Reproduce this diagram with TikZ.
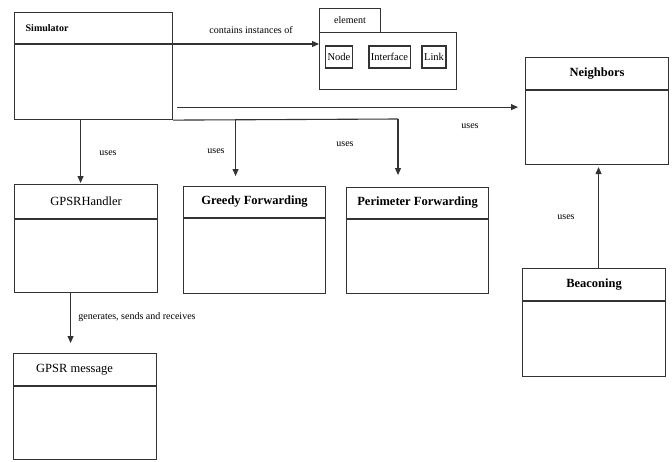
\documentclass[tikz,border=0pt]{standalone}
\usepackage{fontspec}
\setmainfont{Liberation Serif}
\usetikzlibrary{arrows.meta, calc}

\tikzset{
  classbox/.style={draw=black!80, line width=1.1pt, inner sep=0pt, anchor=north west},
  classline/.style={draw=black!80, line width=1.1pt},
  uses/.style={classline, -{Triangle[length=7pt,width=6pt]}},
  lbl/.style={font=\fontsize{10}{12}\selectfont, inner sep=1pt},
  ttl/.style={font=\fontsize{12.5}{14}\selectfont\bfseries, inner sep=0pt},
  ttlplain/.style={font=\fontsize{12.5}{14}\selectfont, inner sep=0pt},
  part/.style={draw=black!80, line width=1.3pt, minimum height=22pt, inner xsep=2pt,
    inner ysep=0pt, font=\fontsize{10.5}{12}\selectfont}
}

% name, top left, width, height, head height, title options, title
\newcommand{\umlclass}[7]{%
  \node[classbox, minimum width=#3pt, minimum height=#4pt] (#1) at (#2) {};
  \draw[classline] ([yshift=-#5pt]#1.north west) -- ([yshift=-#5pt]#1.north east);
  \node[#6] (#1-title) at ([yshift=-#5pt/2]#1.north) {#7};
}

\begin{document}
\begin{tikzpicture}[x=1pt, y=-1pt]
  %GPSR class diagram
    \useasboundingbox (0,0) rectangle (672,461);
    \umlclass{sim}{14,12}{158}{107}{32}{ttl, font=\fontsize{10}{12}\selectfont\bfseries, xshift=-46.5pt}{Simulator}
    \umlclass{gh}{14,184}{143}{108}{35}{ttlplain}{GPSRHandler}
    \umlclass{gf}{183,186}{142}{107}{32}{ttl}{Greedy Forwarding}
    \umlclass{pf}{346,187}{142}{106}{32}{ttl}{Perimeter Forwarding}
    \umlclass{gm}{13,353}{143}{106}{33}{ttlplain, xshift=-10.5pt}{GPSR message}
    \umlclass{nbr}{525,57}{143}{107}{33}{ttl}{Neighbors}
    \umlclass{beac}{522,268}{143}{108}{33}{ttl}{Beaconing}
    \node[classbox, minimum width=61pt, minimum height=24pt] (elem-tab) at (319,8) {};
    \node[lbl] (elem-name) at (elem-tab.center) {element};
    \node[classbox, minimum width=137pt, minimum height=57pt] (elem) at (319,32) {};
    \node[part] (node) at (339,57) {Node};
    \node[part] (iface) at (389.5,57) {Interface};
    \node[part] (link) at (434,57) {Link};
    \coordinate (bus) at (398,119);
    \draw[uses] ($(sim.north east)+(0,32)$) -- ($(elem.west |- sim.north east)+(0,32)$);
    \draw[uses] ($(sim.south east)+(4,-13)$) -- ($(nbr.west |- sim.south east)+(-7,-13)$);
    \draw[classline] (sim.south east) -- (bus);
    \draw[uses] ($(gh.north |- sim.south)+(-5.5,0)$) -- ($(gh.north)+(-5.5,-1)$);
    \draw[uses] ($(gf.north |- sim.south)+(-19,0)$) -- ($(gf.north)+(-19,-10)$);
    \draw[uses] (bus) -- ($(bus |- pf.north)+(0,-12)$);
    \draw[uses] ($(gh.south)+(-15.5,0)$) -- ($(gh.south |- gm.north)+(-15.5,-10)$);
    \draw[uses] ($(beac.north)+(4.5,0)$) -- ($(beac.north |- nbr.south)+(4.5,2)$);
    \node[lbl] (l-contains) at (251,30) {contains instances of};
    \node[lbl] (l-gh) at (108,153) {uses};
    \node[lbl] (l-gf) at (216,151) {uses};
    \node[lbl] (l-pf) at (345,144) {uses};
    \node[lbl] (l-nbr) at (470,126) {uses};
    \node[lbl] (l-beac) at (566,217) {uses};
    \node[lbl] (l-gm) at (137,317) {generates, sends and receives};
\end{tikzpicture}
\end{document}
